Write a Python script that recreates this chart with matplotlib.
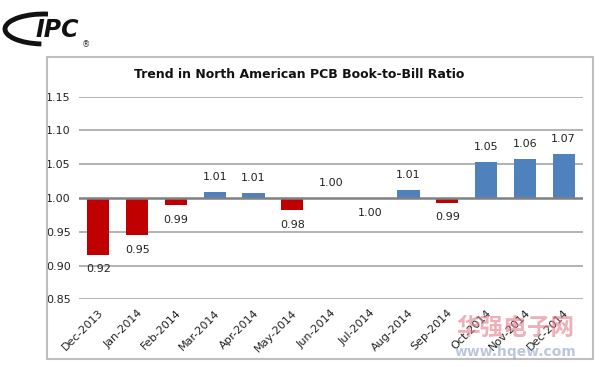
import numpy as np
import matplotlib.pyplot as plt
from matplotlib.patches import Rectangle, Arc

# Data
months = ["Dec-2013", "Jan-2014", "Feb-2014", "Mar-2014", "Apr-2014", "May-2014",
          "Jun-2014", "Jul-2014", "Aug-2014", "Sep-2014", "Oct-2014", "Nov-2014", "Dec-2014"]
ratio = [0.916, 0.945, 0.989, 1.009, 1.008, 0.982, 1.0004, 0.9996, 1.012, 0.993, 1.053, 1.058, 1.065]
labels = ["0.92", "0.95", "0.99", "1.01", "1.01", "0.98", "1.00", "1.00", "1.01", "0.99", "1.05", "1.06", "1.07"]
yticks = [0.85, 0.90, 0.95, 1.00, 1.05, 1.10, 1.15]

base = 1.0
red = "#C00000"
blue = "#4F81BD"

W, H = 599, 367
fig = plt.figure(figsize=(W / 100, H / 100), dpi=100)

# outer chart frame
fig.patches.append(Rectangle((47 / W, 1 - 359 / H), (593 - 47) / W, (359 - 57) / H,
                             transform=fig.transFigure, fill=False, edgecolor="#BFBFBF", lw=1.5))

ax = fig.add_axes([79 / W, 1 - 299.3 / H, (583 - 79) / W, (299.3 - 96.7) / H])
x = np.arange(len(months))
heights = [v - base for v in ratio]
colors = [blue if h >= 0 else red for h in heights]
ax.bar(x, heights, bottom=base, width=0.57, color=colors, zorder=3)

for xi, v, lab in zip(x, ratio, labels):
    if v >= base:
        ax.annotate(lab, (xi, v), xytext=(0, 7), textcoords="offset points",
                    ha="center", va="bottom", fontsize=8, color="#222222")
    else:
        ax.annotate(lab, (xi, v), xytext=(0, -7), textcoords="offset points",
                    ha="center", va="top", fontsize=8, color="#222222")

ax.set_xlim(-0.5, len(months) - 0.5)
ax.set_ylim(0.85, 1.15)
ax.set_yticks(yticks)
ax.set_yticklabels([f"{t:.2f}" for t in yticks], fontsize=8, color="#222222")
ax.set_xticks(x)
ax.set_xticklabels(months, rotation=45, ha="right", rotation_mode="anchor", fontsize=8, color="#222222")
ax.tick_params(axis="both", length=0)
ax.tick_params(axis="y", pad=6)
ax.tick_params(axis="x", pad=6)
for s in ax.spines.values():
    s.set_visible(False)
for t in yticks:
    if t == base:
        ax.axhline(t, color="#808080", lw=1.8, zorder=4)
    else:
        ax.axhline(t, color="#A6A6A6", lw=1.2, zorder=1)

fig.text(0.5, 1 - 75 / H, "Trend in North American PCB Book-to-Bill Ratio",
         ha="center", va="center", fontsize=9, fontweight="bold", color="#111111")

# IPC logo
lg = fig.add_axes([0, 1 - 55 / H, 100 / W, 55 / H])
lg.set_xlim(0, 100)
lg.set_ylim(55, 0)
lg.axis("off")
lg.add_patch(Arc((44, 29), 78, 30, theta1=100, theta2=285, lw=3.5, color="#111111"))
lg.text(36, 30, "IPC", fontsize=17, fontweight="bold", style="italic",
        ha="left", va="center", color="#111111")
lg.text(82, 45, "®", fontsize=6, ha="left", va="center", color="#333333")

# watermark
fig.text(0.86, 1 - 328 / H, "华强电子网", fontsize=17, fontweight="bold",
         family=["Noto Sans CJK SC", "DejaVu Sans"], color="#E57A8A", alpha=0.6,
         ha="center", va="center")
fig.text(0.86, 1 - 352 / H, "www.hqew.com", fontsize=10, fontweight="bold",
         color="#8FA3C8", alpha=0.6, ha="center", va="center")

fig.savefig("out.png", dpi=100)
